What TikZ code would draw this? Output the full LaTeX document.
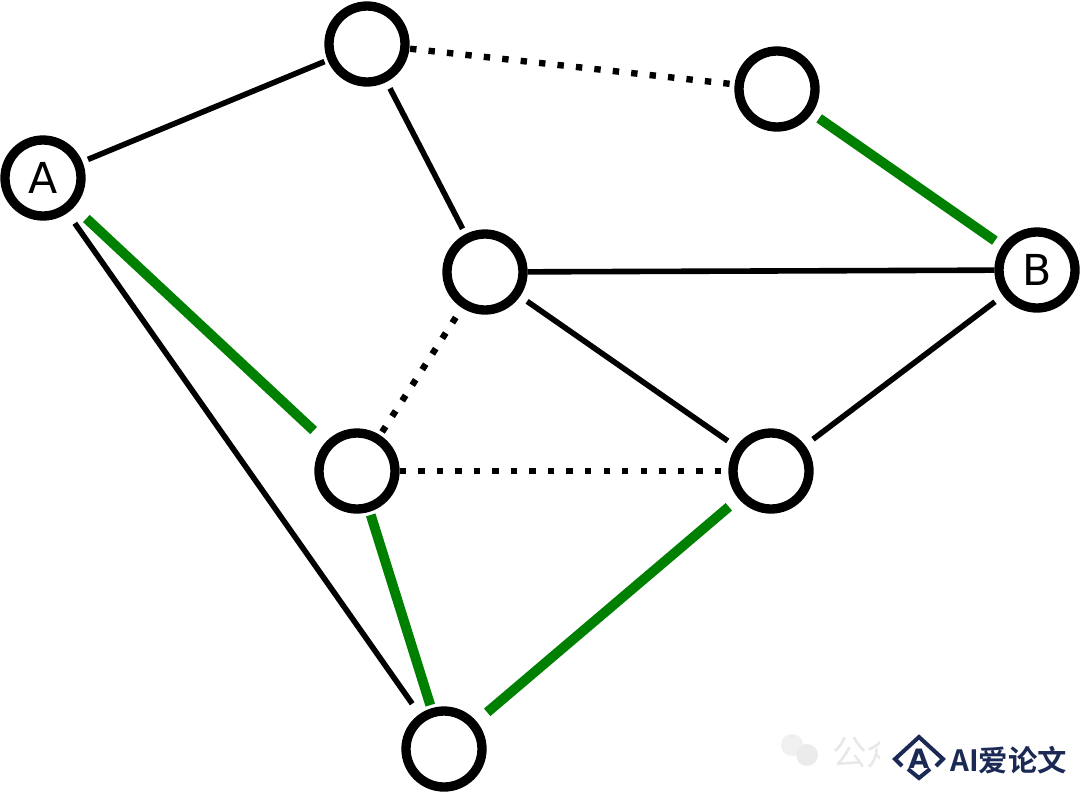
\documentclass[tikz,border=0pt]{standalone}
\usepackage{fontspec}
\setmainfont{DejaVu Sans}
\newfontfamily\cjk{Noto Sans CJK SC}[BoldFont={* Bold}]
\definecolor{routegreen}{RGB}{0,128,0}
\definecolor{marknavy}{RGB}{27,42,84}
\tikzset{
    vertex/.style={circle, draw=black, fill=white, line width=7pt, minimum size=57pt, inner sep=0pt, font=\fontsize{32}{32}\selectfont},
    link/.style={black, line width=4.2pt},
    route/.style={routegreen, line width=7.4pt},
    hidden/.style={black, line width=4.8pt, dash pattern=on 4.8pt off 9.1pt},
}
\begin{document}
\begin{tikzpicture}[x=0.75pt, y=-0.75pt]
            \useasboundingbox (0,0) rectangle (1080,794);

            \node[vertex] (a) at (43,178) {A};
            \node[vertex] (top) at (367,44) {};
            \node[vertex] (right) at (777,89) {};
            \node[vertex] (b) at (1037,270) {B};
            \node[vertex] (mid) at (485,272) {};
            \node[vertex] (left) at (357,471) {};
            \node[vertex] (low) at (771,471) {};
            \node[vertex] (bottom) at (444,749) {};

            \draw[link, shorten >=2.5pt, shorten <=4.5pt] (a) -- (top);
            \draw[link, shorten >=9.5pt, shorten <=9.5pt] (a) -- (bottom);
            \draw[link, shorten >=4.5pt, shorten <=5.5pt] (top) -- (mid);
            \draw[link] (mid) -- (b);
            \draw[link, shorten >=7.5pt, shorten <=6.5pt] (mid) -- (low);
            \draw[link, shorten >=7.5pt, shorten <=7.5pt] (low) -- (b);

            \draw[route, shorten >=12.5pt, shorten <=12.5pt] (a) -- (left);
            \draw[route, shorten >=2.5pt, shorten <=2.5pt] (left) -- (bottom);
            \draw[route, shorten >=9.5pt, shorten <=10.5pt] (bottom) -- (low);
            \draw[route, shorten >=6.5pt, shorten <=6.5pt] (right) -- (b);

            \draw[hidden, shorten >=0.5pt, shorten <=0.5pt] (top) -- (right);
            \draw[hidden, shorten >=2.5pt, shorten <=8.5pt] (mid) -- (left);
            \draw[hidden, shorten >=0.5pt, shorten <=0pt] (left) -- (low);

            % mark in the corner
            \fill[gray!12] (792,745) circle (11);
            \fill[gray!16] (807,755) circle (11);
            \node[text=gray!18, font=\cjk\fontsize{26}{26}\selectfont, anchor=west, inner sep=0pt] (faint) at (832,752) {公众};
            \fill[white] (880,728) rectangle (1080,794);
            \draw[marknavy, line width=3pt, line join=miter] (902,766) -- (895,759) -- (919,737) -- (943,759) -- (936,766);
            \draw[marknavy, line width=3pt] (908,769) -- (919,778) -- (930,769);
            \node[text=marknavy, font=\bfseries\fontsize{20}{20}\selectfont, inner sep=0pt] (logo) at (919,759) {A};
            \node[text=marknavy, font=\cjk\bfseries\fontsize{22}{22}\selectfont, anchor=west, inner sep=0pt] (mark) at (950,760) {AI爱论文};
        \end{tikzpicture}
\end{document}
